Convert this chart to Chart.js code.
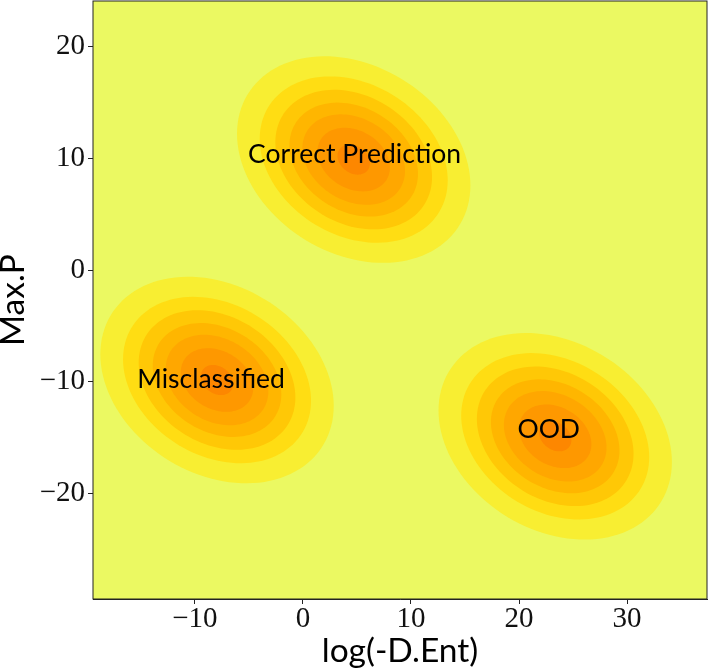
<!DOCTYPE html>
<html>
<head>
<meta charset="utf-8">
<script src="https://cdn.jsdelivr.net/npm/chart.js@4"></script>
<style>
  html, body { margin: 0; padding: 0; background: #fff; }
  #wrap { width: 709px; height: 671px; }
</style>
</head>
<body>
<div id="wrap"><canvas id="contour-chart"></canvas></div>
<script>
// blobs
const blobNames = ["Correct Prediction", "Misclassified", "OOD"];
const centerX = [4.7, -7.95, 23.35];
const centerY = [9.9, -9.84, -14.88];
const labelX = [4.78, -8.5, 22.75];
const labelY = [10.4, -9.8, -14.3];

// contour levels from outer to inner, half widths in axis units
const levelRx = [10.8, 8.7, 7.25, 5.95, 4.75, 3.35, 1.5];
const levelRy = [9.25, 7.45, 6.25, 5.1, 4.05, 2.85, 1.35];
const levelColors = ["#f8ee32", "#ffdd13", "#ffc806", "#ffb600", "#ffa700", "#fe9800", "#fd8700"];
const tilt = -0.25;
const backgroundColor = "#ebf962";

const xTicks = [-10, 0, 10, 20, 30];
const yTicks = [-20, -10, 0, 10, 20];

const serif = "'Liberation Serif'";
const sans = "Lato";

const contours = {
  id: "contours",
  beforeDatasetsDraw(chart) {
    const { ctx, chartArea: a, scales: { x, y } } = chart;
    ctx.save();
    ctx.beginPath();
    ctx.rect(a.left, a.top, a.width, a.height);
    ctx.clip();
    ctx.fillStyle = backgroundColor;
    ctx.fillRect(a.left, a.top, a.width, a.height);
    blobNames.forEach((name, b) => {
      levelRx.forEach((rx, l) => {
        const ry = levelRy[l];
        ctx.beginPath();
        for (let i = 0; i < 120; i++) {
          const t = i / 120 * 2 * Math.PI;
          const dx = rx * Math.cos(t);
          const dy = ry * (tilt * Math.cos(t) + Math.sqrt(1 - tilt * tilt) * Math.sin(t));
          const px = x.getPixelForValue(centerX[b] + dx);
          const py = y.getPixelForValue(centerY[b] + dy);
          if (i == 0) ctx.moveTo(px, py); else ctx.lineTo(px, py);
        }
        ctx.closePath();
        ctx.fillStyle = levelColors[l];
        ctx.fill();
      });
    });
    ctx.restore();
  },
  afterDatasetsDraw(chart) {
    const { ctx, chartArea: a, scales: { x, y } } = chart;
    ctx.save();
    ctx.fillStyle = "#000";
    ctx.font = "26.5px " + sans;
    ctx.textAlign = "center";
    ctx.textBaseline = "middle";
    blobNames.forEach((name, b) => {
      ctx.fillText(name, x.getPixelForValue(labelX[b]), y.getPixelForValue(labelY[b]));
    });
    ctx.strokeStyle = "#222";
    ctx.lineWidth = 1;
    ctx.strokeRect(a.left, a.top, a.width, a.height);
    ctx.restore();
  }
};

function tickText(v) {
  return v < 0 ? "\u2212" + Math.abs(v) : String(v);
}

new Chart(document.getElementById("contour-chart"), {
  type: "scatter",
  data: {
    datasets: [{
      label: "centres",
      data: centerX.map((v, i) => ({ x: v, y: centerY[i] })),
      pointRadius: 0
    }]
  },
  plugins: [contours],
  options: {
    responsive: true,
    maintainAspectRatio: false,
    animation: false,
    layout: { padding: { top: 1, right: 2, left: 0, bottom: 0 } },
    plugins: { legend: { display: false }, tooltip: { enabled: false } },
    scales: {
      x: {
        min: -19.43,
        max: 37.4,
        afterBuildTicks(axis) { axis.ticks = xTicks.map(v => ({ value: v })); },
        afterFit(axis) { axis.height = 72; axis.paddingLeft = 0; axis.paddingRight = 0; },
        ticks: { callback: tickText, font: { family: serif, size: 29 }, color: "#111", maxRotation: 0, padding: -2 },
        grid: { drawOnChartArea: false, tickLength: 5, color: "#222" },
        border: { color: "#222" },
        title: { display: true, text: "log(-D.Ent)", font: { family: sans, size: 33.5 }, color: "#000", padding: 0 }
      },
      y: {
        min: -29.45,
        max: 24.1,
        afterBuildTicks(axis) { axis.ticks = yTicks.map(v => ({ value: v })); },
        afterFit(axis) { axis.width = 93; axis.paddingTop = 0; axis.paddingBottom = 0; },
        ticks: { callback: tickText, font: { family: serif, size: 29 }, color: "#111", padding: 3 },
        grid: { drawOnChartArea: false, tickLength: 5, color: "#222" },
        border: { color: "#222" },
        title: { display: true, text: "Max.P", font: { family: sans, size: 33.5, lineHeight: 0.8 }, color: "#000", padding: 0 }
      }
    }
  }
});
</script>
</body>
</html>
